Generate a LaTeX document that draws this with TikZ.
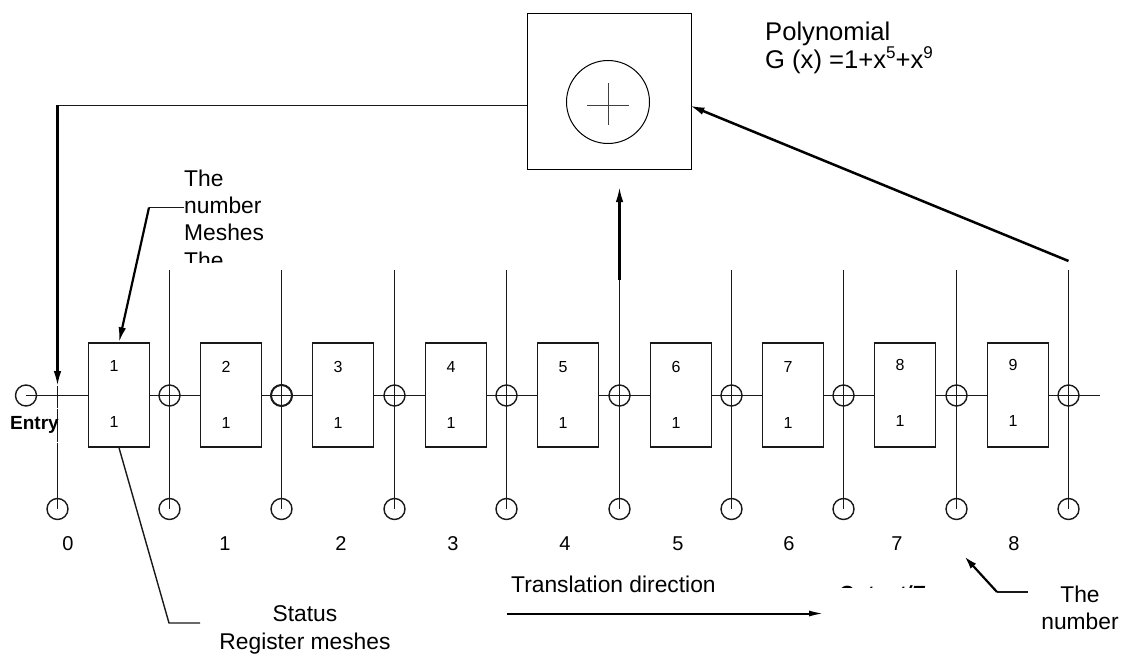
\documentclass[tikz,border=0pt]{standalone}
\usepackage{fontspec}
\setmainfont{Liberation Sans}
\usetikzlibrary{arrows.meta}
\newcommand{\fs}[1]{\fontsize{#1}{#1}\selectfont}
\tikzset{
  thinln/.style={draw=black!90,line width=1.4pt},
  thickln/.style={draw=black,line width=2.2pt},
  arr/.style={thickln,-{Latex[length=15pt,width=7.5pt]}},
  reg/.style={draw=black!90,line width=1.4pt,rectangle,minimum width=61pt,minimum height=104pt,inner sep=0pt,fill=white},
  dot/.style={draw=black!90,line width=1.4pt,circle,minimum size=21pt,inner sep=0pt},
  lbl/.style={inner sep=0pt,anchor=base west,align=left},
  ctr/.style={inner sep=0pt,anchor=base},
  big/.style={font=\fs{22.8}},
  dig/.style={font=\fs{16},inner sep=0pt},
  num/.style={font=\fs{20},inner sep=0pt}
}
\begin{document}
\begin{tikzpicture}[x=1pt,y=-1pt]
\useasboundingbox (0,0) rectangle (1126,655);
% adder
\node[draw=black,line width=1.4pt,rectangle,minimum width=164pt,minimum height=156pt,inner sep=0pt] (add) at (609.5,91.5) {};
\node[draw=black,line width=1pt,circle,minimum size=83pt,inner sep=0pt] (addc) at (608,102) {};
\coordinate (pl) at (587,105.5); \coordinate (pr) at (629,105.5);
\coordinate (pt) at (608.5,83); \coordinate (pb) at (608.5,125);
\draw[draw=black!75,line width=1pt] (pl) -- (pr) (pt) -- (pb);
% main line
\node[dot] (in) at (26,395.5) {};
\coordinate (out) at (1100,395.5);
\foreach \i/\d/\yy/\cx in {0/1/366/119,1/2/367/231,2/3/367/343,3/4/367/456,4/5/367/568,5/6/367/681,6/7/367/793,7/8/365/905,8/9/365/1018}{
  \node[reg] (r\d) at (\cx,395) {};
  \node[dig] (rt\d) at ({\cx-5},\yy) {\d};
  \node[dig] (rb\d) at ({\cx-5},{\yy+56}) {1};
}
\draw[thinln] (in.center) -- (in.center -| r1.west);
\foreach \a/\b in {1/2,2/3,3/4,4/5,5/6,6/7,7/8,8/9}{\draw[thinln] (in.center -| r\a.east) -- (in.center -| r\b.west);}
\draw[thinln] (in.center -| r9.east) -- (out);
% columns
\coordinate (c0) at (57.5,386);
\node[dot] (b0) at (57.5,509) {};
\draw[thinln] (c0) -- (b0.center);
\foreach \i/\cx in {1/169.5,2/281.5,3/394.5,4/506.5,5/619.5,6/731.5,7/843.5,8/956.5,9/1068.5}{
  \coordinate (t\i) at (\cx,270);
  \node[dot] (x\i) at (\cx,395.5) {};
  \node[dot] (b\i) at (\cx,509) {};
  \draw[thinln] (t\i) -- (b\i.center);
}
\node[dot,line width=1.9pt] at (x2) {};
\draw[white,line width=2pt] (57.5,407.5) -- (57.5,408.7) (57.5,441.5) -- (57.5,442.7);
% feedback
\coordinate (fb) at (57.5,105.5);
\draw[thinln,line width=1.6pt] (add.west |- pl) -- (fb);
\draw[arr] (fb) -- (c0);
\coordinate (m5) at (619.5,280); \coordinate (m5t) at (619.5,187);
\draw[arr] (m5) -- (m5t);
\coordinate (n9) at (1068.5,261); \coordinate (addr) at (689.5,105.4);
\draw[arr,line width=2.5pt] (n9) -- (addr);
% labels
\node[lbl,font=\bfseries\fs{19}] (entry) at (10,429) {Entry};
\node[lbl,big] (l1) at (184,186) {The};
\node[lbl,big] (l2) at (184,213) {number};
\node[lbl,big] (l3) at (184,240.5) {Meshes};
\begin{scope}
\clip (180,250) rectangle (300,262);
\node[lbl,big] (l4) at (184,268) {The};
\end{scope}
\coordinate (k1) at (184,207.5); \coordinate (k2) at (149,207.5);
\draw[thinln] (k1) -- (k2);
\draw[thickln,-{Latex[length=15pt,width=7.5pt]}] (k2) -- (r1.north);
\coordinate (k3) at (169,623); \coordinate (k4) at (200,623);
\draw[thinln] (r1.south) -- (k3) -- (k4);
\node[ctr,big] (st) at (305,621.5) {Status};
\node[ctr,big] (rm) at (305,649) {Register meshes};
\foreach \n/\x in {0/68,1/225,2/341,3/453,4/565,5/678,6/789,7/897,8/1014}{
  \node[num] (n\n) at (\x,544) {\n};
}
\node[lbl,big] (tr) at (511,592) {Translation direction};
\coordinate (a1) at (507,613.5); \coordinate (a2) at (824,613.5);
\draw[thickln,line width=2pt,-{Latex[length=15pt,width=6pt]}] (a1) -- (a2);
\begin{scope}
\clip (830,575) rectangle (930,587);
\node[lbl,font=\bfseries\itshape\fs{20.5}] (ou) at (838,600) {Output/E};
\end{scope}
\coordinate (k5) at (1028,592); \coordinate (k6) at (997,592); \coordinate (k7) at (964.5,556.5);
\draw[thinln] (k5) -- (k6);
\draw[thickln,-{Latex[length=13pt,width=7.5pt]}] (k6) -- (k7);
\node[ctr,big] (e1) at (1080,602) {The};
\node[ctr,big] (e2) at (1080,629) {number};
\node[lbl,font=\fs{25.6}] (p1) at (765,41) {Polynomial};
\node[lbl,font=\fs{25.6}] (p2) at (765,69) {G (x) =1+x\raisebox{10pt}{\fs{17}5}+x\raisebox{10pt}{\fs{17}9}};
\end{tikzpicture}
\end{document}
